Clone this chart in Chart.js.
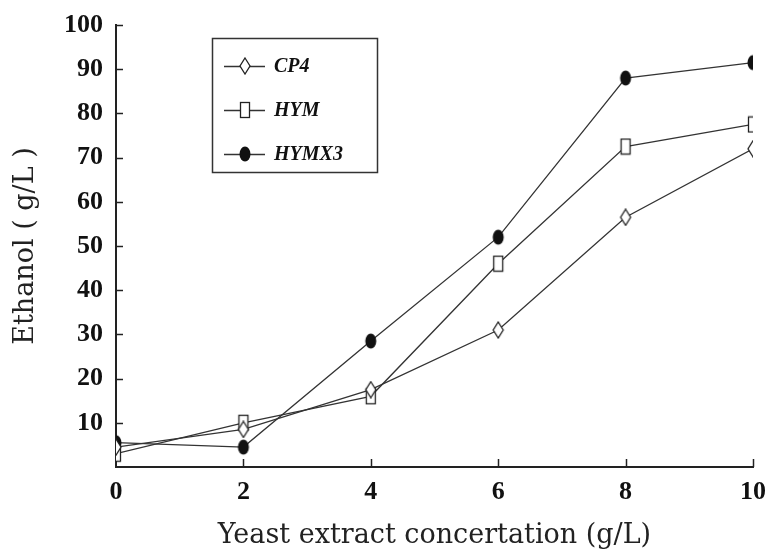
<!DOCTYPE html>
<html>
<head>
<meta charset="utf-8">
<script src="https://cdn.jsdelivr.net/npm/chart.js@4.4.1/dist/chart.umd.min.js"></script>
<style>
html,body{margin:0;padding:0;background:#fff;}
#wrap{width:770px;height:556px;position:relative;}
</style>
</head>
<body>
<div id="wrap"><canvas id="c" width="770" height="556"></canvas></div>
<script>
const xValues = [0, 2, 4, 6, 8, 10];
const cp4 = [4.5, 8.5, 17.5, 31, 56.5, 72];
const hym = [3, 10, 16, 46, 72.5, 77.5];
const hymx3 = [5.5, 4.5, 28.5, 52, 88, 91.5];
const seriesNames = ['CP4', 'HYM', 'HYMX3'];
const xTickLabels = [0, 2, 4, 6, 8, 10];
const yTickLabels = [10, 20, 30, 40, 50, 60, 70, 80, 90, 100];
const xTitle = 'Yeast extract concertation (g/L)';
const yTitle = 'Ethanol ( g/L )';

const LINE = '#333';

function makeMarker(kind) {
  const c = document.createElement('canvas');
  const w = 14, h = 18;
  c.width = w; c.height = h;
  const g = c.getContext('2d');
  g.lineWidth = 1.3;
  g.strokeStyle = '#222';
  if (kind === 'diamond') {
    g.beginPath();
    g.moveTo(w/2, 1); g.lineTo(w-2, h/2); g.lineTo(w/2, h-1); g.lineTo(2, h/2); g.closePath();
    g.fillStyle = '#fff'; g.fill(); g.stroke();
  } else if (kind === 'rect') {
    g.fillStyle = '#fff';
    g.fillRect(2.5, 1.5, w-5, h-3);
    g.strokeRect(2.5, 1.5, w-5, h-3);
  } else {
    g.beginPath();
    g.ellipse(w/2, h/2, 5.5, 7.5, 0, 0, Math.PI*2);
    g.fillStyle = '#111'; g.fill();
  }
  return c;
}
const markers = [makeMarker('diamond'), makeMarker('rect'), makeMarker('dot')];
const seriesData = [cp4, hym, hymx3];

const datasets = seriesNames.map((n, i) => ({
  label: n,
  data: xValues.map((x, j) => ({x: x, y: seriesData[i][j]})),
  borderColor: LINE,
  borderWidth: 1.3,
  pointStyle: markers[i],
  backgroundColor: '#fff',
  tension: 0,
  fill: false
}));

const serifBold = {family: '"Liberation Serif", "Times New Roman", serif', size: 26, weight: 'bold'};

const extras = {
  id: 'extras',
  afterDraw(chart) {
    const ctx = chart.ctx;
    const xs = chart.scales.x, ys = chart.scales.y;
    ctx.save();
    ctx.strokeStyle = '#222';
    ctx.lineWidth = 1.5;
    yTickLabels.forEach(v => {
      const py = Math.round(ys.getPixelForValue(v)) + 0.5;
      ctx.beginPath(); ctx.moveTo(xs.left, py); ctx.lineTo(xs.left + 7, py); ctx.stroke();
    });
    xTickLabels.forEach(v => {
      if (v === 0) return;
      const px = Math.round(xs.getPixelForValue(v)) + 0.5;
      ctx.beginPath(); ctx.moveTo(px, ys.bottom); ctx.lineTo(px, ys.bottom - 8); ctx.stroke();
    });
    const bx = 212, by = 38, bw = 165, bh = 134;
    ctx.lineWidth = 1.5;
    ctx.strokeStyle = '#333';
    ctx.strokeRect(bx + 0.5, by + 0.5, bw, bh);
    const rows = [66, 110, 154];
    ctx.font = 'italic bold 20px "Liberation Serif", "Times New Roman", serif';
    ctx.fillStyle = '#111';
    ctx.textBaseline = 'middle';
    seriesNames.forEach((n, i) => {
      const y = rows[i];
      ctx.lineWidth = 1.3;
      ctx.strokeStyle = LINE;
      ctx.beginPath(); ctx.moveTo(224, y + 0.5); ctx.lineTo(265, y + 0.5); ctx.stroke();
      const m = markers[i];
      ctx.drawImage(m, 245 - m.width/2, y - m.height/2);
      ctx.fillText(n, 274, y + 1);
    });
    ctx.restore();
  }
};

new Chart(document.getElementById('c'), {
  type: 'line',
  data: {datasets},
  plugins: [extras],
  options: {
    responsive: false,
    animation: false,
    devicePixelRatio: 1,
    layout: {padding: {top: 25, right: 17, left: 0, bottom: 0}},
    plugins: {legend: {display: false}, tooltip: {enabled: false}},
    scales: {
      x: {
        type: 'linear', min: 0, max: 10,
        afterFit(s) { s.height = 89; s.paddingLeft = 0; s.paddingRight = 0; },
        afterBuildTicks(s) { s.ticks = xTickLabels.map(v => ({value: v})); },
        grid: {display: true, drawOnChartArea: false, drawTicks: false},
        border: {display: true, color: '#222', width: 2},
        ticks: {color: '#111', font: serifBold, padding: 10, maxRotation: 0},
        title: {display: true, text: xTitle, color: '#222',
          font: {family: '"DejaVu Serif", serif', size: 27}, padding: {top: 6}}
      },
      y: {
        type: 'linear', min: 0, max: 100,
        afterFit(s) { s.width = 116; s.paddingTop = 0; s.paddingBottom = 0; },
        afterBuildTicks(s) { s.ticks = yTickLabels.map(v => ({value: v})); },
        grid: {display: true, drawOnChartArea: false, drawTicks: false},
        border: {display: true, color: '#222', width: 2},
        ticks: {color: '#111', font: serifBold, padding: 13},
        title: {display: true, text: yTitle, color: '#222',
          font: {family: '"DejaVu Serif", serif', size: 27}, padding: {top: 10}}
      }
    }
  }
});
</script>
</body>
</html>
